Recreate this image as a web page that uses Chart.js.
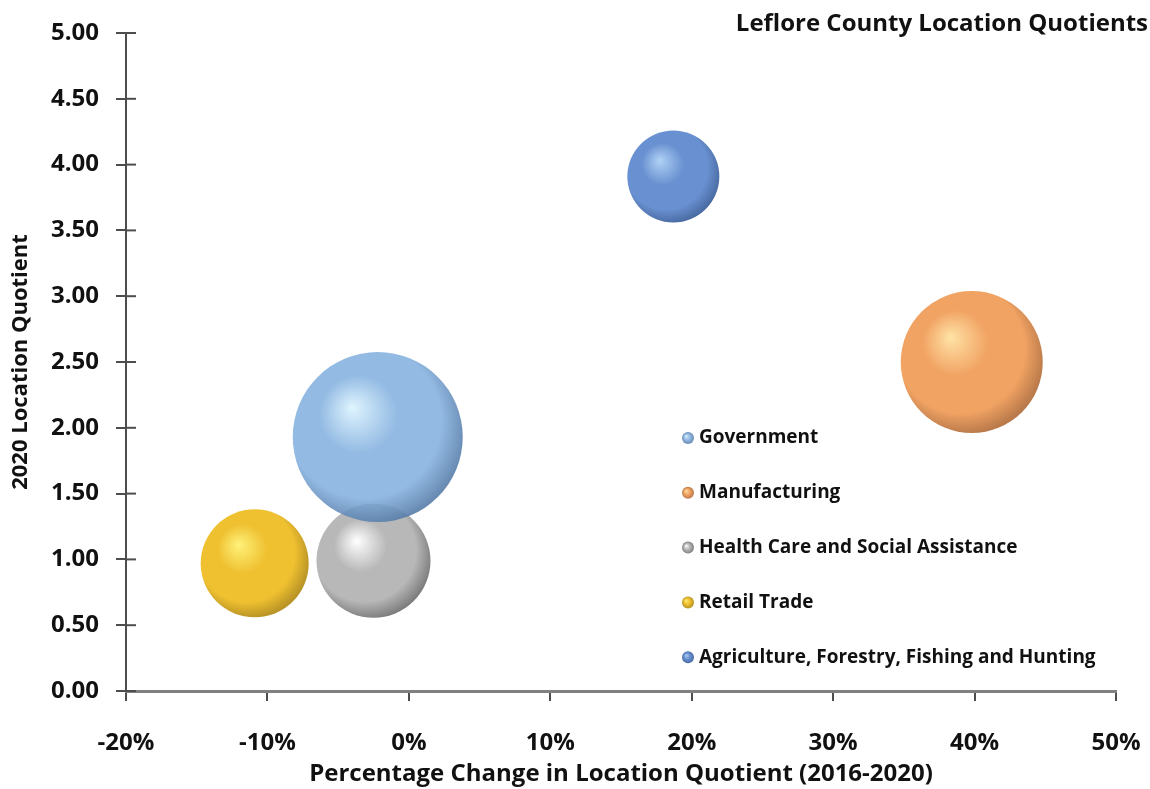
<!DOCTYPE html>
<html>
<head>
<meta charset="utf-8">
<title>Leflore County Location Quotients</title>
<script src="https://cdn.jsdelivr.net/npm/chart.js@4.4.0/dist/chart.umd.min.js"></script>
<style>
  html, body { margin: 0; padding: 0; background: #ffffff; }
  #wrap { width: 1150px; height: 789px; position: relative; }
</style>
</head>
<body>
<div id="wrap"><canvas id="lqChart"></canvas></div>
<script>
// data
const industries = ["Government", "Manufacturing", "Health Care and Social Assistance", "Retail Trade", "Agriculture, Forestry, Fishing and Hunting"];
const pctChange = [-2.2, 39.8, -2.5, -10.9, 18.7];       // % change in LQ 2016-2020
const lq2020 = [1.93, 2.50, 0.99, 0.97, 3.91];           // 2020 location quotient
const bubbleSize = [85, 71, 57, 54, 46];                 // bubble radius
const xTickValues = [-20, -10, 0, 10, 20, 30, 40, 50];
const yTickValues = [0, 0.5, 1, 1.5, 2, 2.5, 3, 3.5, 4, 4.5, 5];

const chartTitle = "Leflore County Location Quotients";
const xTitle = "Percentage Change in Location Quotient (2016-2020)";
const yTitle = "2020 Location Quotient";

// sphere shading: [highlight, base, edge]
const shades = [
    ["rgba(220,244,255,0.9)", "rgba(128,174,222,0.85)", "rgba(88,126,170,0.9)"],
    ["#ffe3a6", "#f1a363", "#b9794a"],
    ["#ffffff", "#b8b8b8", "#7e7e7e"],
    ["#fff27a", "#efc030", "#b89326"],
    ["#b0d2f6", "#6990d0", "#4a6ca4"]
];

const FONT = "'Open Sans', Lato, sans-serif";
const AXIS_COLOR = "#4d4d4d";

function sphereFill(context) {
    const chart = context.chart;
    const i = context.datasetIndex;
    const s = shades[i];
    if (!chart.chartArea || !context.raw) return s[1];
    const cx = chart.scales.x.getPixelForValue(context.raw.x);
    const cy = chart.scales.y.getPixelForValue(context.raw.y);
    const r = context.raw.r;
    // light from upper left, shade toward the lower right
    const g = chart.ctx.createRadialGradient(cx - r * 0.3, cy - r * 0.35, 0, cx - r * 0.12, cy - r * 0.14, r * 1.16);
    g.addColorStop(0, s[0]);
    g.addColorStop(0.4, s[1]);
    g.addColorStop(0.78, s[1]);
    g.addColorStop(1, s[2]);
    return g;
}

const datasets = industries.map((name, i) => ({
    label: name,
    data: [{ x: pctChange[i], y: lq2020[i], r: bubbleSize[i] }],
    backgroundColor: sphereFill,
    borderWidth: 0,
    hoverRadius: 0,
    hoverBorderWidth: 0
}));

// title, legend inside the plot and the inner half of the y ticks
const extrasPlugin = {
    id: "extras",
    afterDraw(chart) {
        const ctx = chart.ctx;
        const area = chart.chartArea;
        ctx.save();
        // inner y tick marks (cross ticks)
        ctx.strokeStyle = AXIS_COLOR;
        ctx.lineWidth = 2;
        chart.scales.y.ticks.forEach(t => {
            const py = chart.scales.y.getPixelForValue(t.value);
            ctx.beginPath();
            ctx.moveTo(area.left, py);
            ctx.lineTo(area.left + 10, py);
            ctx.stroke();
        });
        // title
        ctx.fillStyle = "#111111";
        ctx.font = "bold 24px " + FONT;
        ctx.textAlign = "right";
        ctx.textBaseline = "middle";
        ctx.fillText(chartTitle, 1148, 24);
        // legend
        ctx.textAlign = "left";
        ctx.font = "bold 19px " + FONT;
        industries.forEach((name, i) => {
            const ly = 438 + i * 54.8;
            const mx = 688;
            const g = ctx.createRadialGradient(mx - 2, ly - 2, 0, mx, ly, 6);
            g.addColorStop(0, shades[i][0]);
            g.addColorStop(0.5, shades[i][1]);
            g.addColorStop(1, shades[i][2]);
            ctx.fillStyle = g;
            ctx.beginPath();
            ctx.arc(mx, ly, 6, 0, Math.PI * 2);
            ctx.fill();
            ctx.fillStyle = "#111111";
            ctx.fillText(name, 699, ly);
        });
        ctx.restore();
    }
};

document.addEventListener("DOMContentLoaded", function () {
    const ctx = document.getElementById("lqChart").getContext("2d");

    window.lqChart = new Chart(ctx, {
        type: "bubble",
        data: { datasets: datasets },
        options: {
            responsive: true,
            maintainAspectRatio: false,
            animation: false,
            events: [],
            layout: { autoPadding: false, padding: { top: 33, right: 34, left: 0, bottom: 0 } },
            scales: {
                x: {
                    type: "linear",
                    min: -20,
                    max: 50,
                    afterBuildTicks: (scale) => { scale.ticks = xTickValues.map(v => ({ value: v })); },
                    afterFit: (scale) => {
                        scale.height = 98;
                        scale.paddingLeft = 0;
                        scale.paddingRight = 0;
                    },
                    ticks: {
                        color: "#111111",
                        font: { family: FONT, size: 24, weight: "bold" },
                        padding: 28,
                        maxRotation: 0,
                        autoSkip: false,
                        callback: (v) => v + "%"
                    },
                    grid: { drawOnChartArea: false, drawTicks: true, tickLength: 10, color: AXIS_COLOR, lineWidth: 2 },
                    border: { display: true, color: "#808080", width: 3 },
                    title: {
                        display: true,
                        text: xTitle,
                        color: "#111111",
                        font: { family: FONT, size: 24, weight: "bold" },
                        padding: { top: 0, bottom: 0 }
                    }
                },
                y: {
                    type: "linear",
                    min: 0,
                    max: 5,
                    afterBuildTicks: (scale) => { scale.ticks = yTickValues.map(v => ({ value: v })); },
                    afterFit: (scale) => {
                        scale.width = 126;
                        scale.paddingTop = 0;
                        scale.paddingBottom = 0;
                    },
                    ticks: {
                        color: "#111111",
                        font: { family: FONT, size: 24, weight: "bold" },
                        padding: 17,
                        autoSkip: false,
                        callback: (v) => Number(v).toFixed(2)
                    },
                    grid: { drawOnChartArea: false, drawTicks: true, tickLength: 10, color: AXIS_COLOR, lineWidth: 2 },
                    border: { display: true, color: AXIS_COLOR, width: 2 },
                    title: {
                        display: true,
                        text: yTitle,
                        color: "#111111",
                        font: { family: FONT, size: 22, weight: "bold" },
                        padding: { top: 8, bottom: 0 }
                    }
                }
            },
            plugins: {
                legend: { display: false },
                tooltip: { enabled: false },
                title: { display: false }
            }
        },
        plugins: [extrasPlugin]
    });
});
</script>
</body>
</html>
